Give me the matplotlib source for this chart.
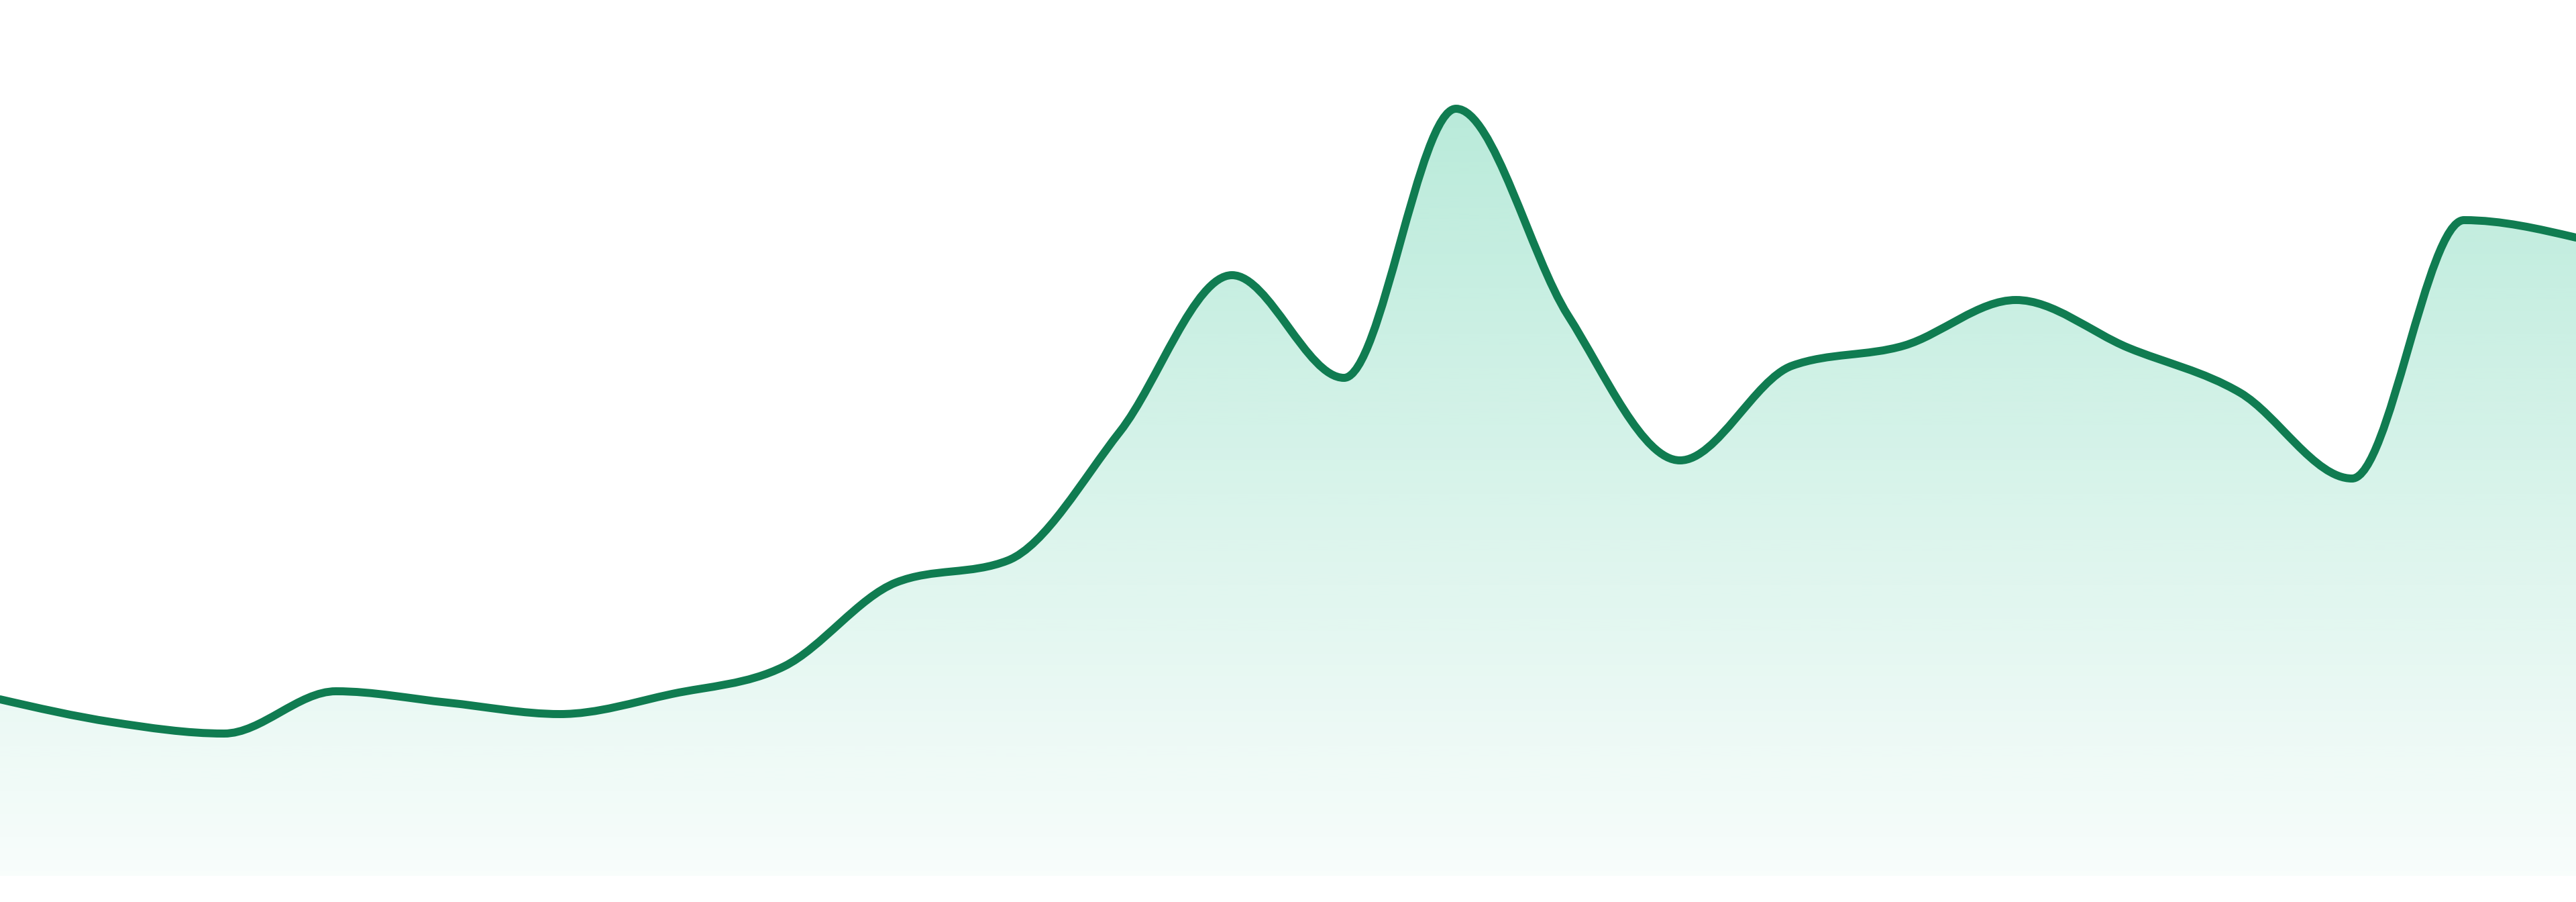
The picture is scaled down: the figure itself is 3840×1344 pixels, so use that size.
import numpy as np
import matplotlib
matplotlib.use("Agg")
import matplotlib.pyplot as plt
import matplotlib.colors as mcolors
from matplotlib.path import Path
from matplotlib.patches import PathPatch

# ── DATA (24 evenly spaced samples) ──
values = [26.3, 22.9, 21.2, 27.5, 25.8, 24.1, 27.1, 31.2, 43.7, 47.0,
          66.2, 89.5, 74.2, 114.3, 83.5, 61.9, 76.0, 79.0, 85.8, 78.7,
          72.0, 59.2, 97.7, 95.1]
x_index = list(range(len(values)))

Y_MAX = 130.5
LINE_COLOR = "#107c51"
FILL_RGB = mcolors.to_rgb("#10b981")
ALPHA_TOP, ALPHA_BOTTOM = 0.30, 0.03
GRAD_TOP = 117.5


def monotone_x(xs, ys):
    """Bezier path like d3.curveMonotoneX."""
    xs = np.asarray(xs, float)
    ys = np.asarray(ys, float)
    n = len(xs)
    t = np.zeros(n)
    for i in range(1, n - 1):
        h0 = xs[i] - xs[i - 1]
        h1 = xs[i + 1] - xs[i]
        s0 = (ys[i] - ys[i - 1]) / h0
        s1 = (ys[i + 1] - ys[i]) / h1
        p = (s0 * h1 + s1 * h0) / (h0 + h1)
        t[i] = (np.sign(s0) + np.sign(s1)) * min(abs(s0), abs(s1), 0.5 * abs(p))
    h = xs[1] - xs[0]
    t[0] = (3 * (ys[1] - ys[0]) / h - t[1]) / 2
    h = xs[-1] - xs[-2]
    t[-1] = (3 * (ys[-1] - ys[-2]) / h - t[-2]) / 2

    verts = [(xs[0], ys[0])]
    codes = [Path.MOVETO]
    for i in range(n - 1):
        dx = (xs[i + 1] - xs[i]) / 3
        verts += [(xs[i] + dx, ys[i] + dx * t[i]),
                  (xs[i + 1] - dx, ys[i + 1] - dx * t[i + 1]),
                  (xs[i + 1], ys[i + 1])]
        codes += [Path.CURVE4] * 3
    return verts, codes


fig = plt.figure(figsize=(38.4, 13.44), dpi=100)
fig.patch.set_facecolor("white")
ax = fig.add_axes([0, 39 / 1344, 1, 1305 / 1344])
ax.set_xlim(x_index[0], x_index[-1])
ax.set_ylim(0, Y_MAX)
ax.set_axis_off()

verts, codes = monotone_x(x_index, values)

# area under the curve
fill_verts = verts + [(x_index[-1], 0), (x_index[0], 0), verts[0]]
fill_codes = codes + [Path.LINETO, Path.LINETO, Path.CLOSEPOLY]
area = PathPatch(Path(fill_verts, fill_codes), facecolor="none", edgecolor="none")
ax.add_patch(area)

# vertical gradient, clipped to the area
rows = 600
yy = np.linspace(Y_MAX, 0, rows)
frac = np.clip(yy / GRAD_TOP, 0, 1)
alpha = ALPHA_BOTTOM + (ALPHA_TOP - ALPHA_BOTTOM) * frac
grad = np.zeros((rows, 1, 4))
grad[:, 0, 0], grad[:, 0, 1], grad[:, 0, 2] = FILL_RGB
grad[:, 0, 3] = alpha
img = ax.imshow(grad, extent=[x_index[0], x_index[-1], 0, Y_MAX],
                aspect="auto", origin="upper", interpolation="bilinear", zorder=1)
img.set_clip_path(area)

# the line
ax.add_patch(PathPatch(Path(verts, codes), facecolor="none", edgecolor=LINE_COLOR,
                       linewidth=8.6, capstyle="round", joinstyle="round", zorder=3))

fig.savefig("out.png", dpi=100, facecolor="white")
plt.close(fig)
